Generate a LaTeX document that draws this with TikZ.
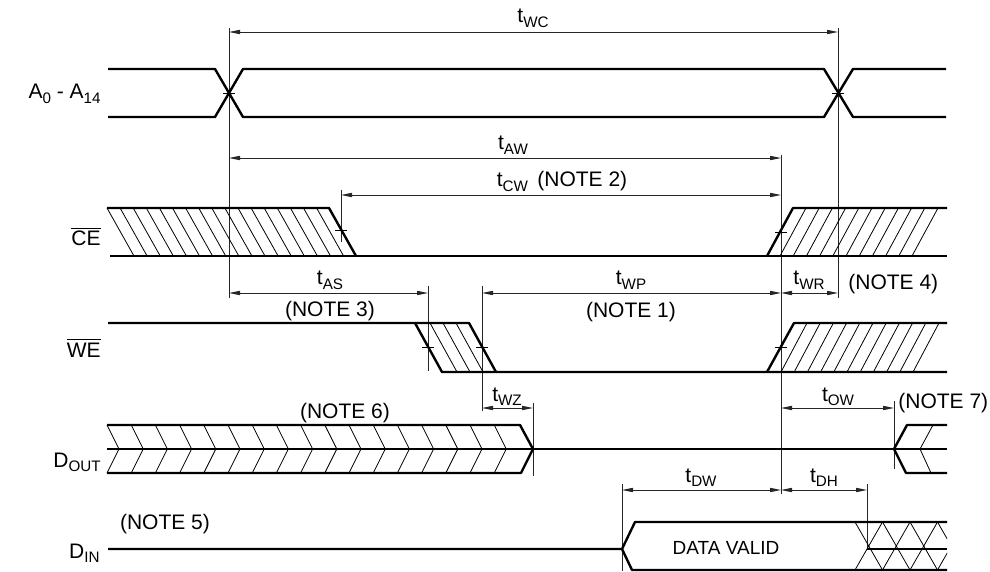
\documentclass[tikz,border=0pt]{standalone}
\usepackage{fontspec}
\setmainfont{Liberation Sans}
\usetikzlibrary{arrows.meta}
\newcommand\subs[1]{\raisebox{-0.45ex}{\fontsize{7.6}{8}\selectfont #1}}
\newcommand\ovl[1]{\ensuremath{\overline{\mbox{#1}}}}
\begin{document}
\begin{tikzpicture}[x=0.5pt,y=-0.5pt,
  sig/.style={line width=1.2pt, line join=round},
  thin/.style={line width=0.45pt, black!85},
  hatchline/.style={line width=0.4pt},
  dim/.style={thin, {Triangle[length=5.5pt,width=2.1pt]}-{Triangle[length=5.5pt,width=2.1pt]}},
  tickm/.style={line width=0.45pt},
  lbl/.style={font=\fontsize{10.5}{12}\selectfont, inner sep=0pt, anchor=base},
  sname/.style={font=\fontsize{10.5}{12}\selectfont, inner sep=0pt, anchor=base east},
]
\useasboundingbox (0,0) rectangle (990,572);

% ---------- signal names ----------
\node[sname] (nA)  at (101,99)  {A\subs{0} - A\subs{14}};
\node[sname] (nCE) at (101,246) {\ovl{CE}};
\node[sname] (nWE) at (101,357) {\ovl{WE}};
\node[sname] (nDO) at (101,467) {D\subs{OUT}};
\node[sname] (nDI) at (100,558) {D\subs{IN}};

% ---------- reference lines ----------
\draw[thin] (229,28) -- (229,298);
\draw[thin] (838,28) -- (838,298);
\draw[thin] (781,155) -- (781,494);
\draw[thin] (341,190) -- (341,242);
\draw[thin] (428,286) -- (428,371);
\draw[thin] (482,286) -- (482,411);
\draw[thin] (533,403) -- (533,476);
\draw[thin] (894,401) -- (894,469);
\draw[thin] (622,484) -- (622,571);
\draw[thin] (867,484) -- (867,549);

% ---------- A0 - A14 ----------
\draw[sig] (108,69) -- (215,69) -- (243,117) -- (824,117) -- (853,69) -- (946,69);
\draw[sig] (108,117) -- (215,117) -- (243,69) -- (824,69) -- (853,117) -- (946,117);
\draw[tickm] (223,93) -- (235,93);
\draw[tickm] (832,93) -- (844,93);

% ---------- CE ----------
\begin{scope}
  \clip (100,208) -- (329,208) -- (356,256) -- (100,256) -- cycle;
  \foreach \k in {0,...,17} \draw[hatchline] ({107+13.1*\k},208) -- ({134+13.1*\k},256);
\end{scope}
\begin{scope}
  \clip (767,256) -- (793,208) -- (950,208) -- (950,256) -- cycle;
  \foreach \k in {0,...,10} \draw[hatchline] ({780+13.2*\k},256) -- ({806+13.2*\k},208);
\end{scope}
\draw[sig] (107,208) -- (329,208) -- (356,256);
\draw[sig] (110,256) -- (947,256);
\draw[sig] (767,256) -- (793,208) -- (947,208);
\draw[tickm] (335,230) -- (347,230);
\draw[tickm] (775,232) -- (787,232);

% ---------- WE ----------
\begin{scope}
  \clip (415,323) -- (469,323) -- (496,372) -- (442,372) -- cycle;
  \foreach \k in {0,...,2} \draw[hatchline] ({430+13*\k},323) -- ({457+13*\k},372);
\end{scope}
\begin{scope}
  \clip (767,372) -- (794,323) -- (950,323) -- (950,372) -- cycle;
  \foreach \k in {0,...,10} \draw[hatchline] ({781+13.2*\k},372) -- ({807+13.2*\k},323);
\end{scope}
\draw[sig] (108,323) -- (469,323) -- (496,372);
\draw[sig] (415,323) -- (442,372) -- (947,372);
\draw[sig] (767,372) -- (794,323) -- (947,323);
\draw[tickm] (422,347) -- (434,347);
\draw[tickm] (476,347) -- (488,347);
\draw[tickm] (775,347) -- (787,347);

% ---------- D OUT ----------
\foreach \k in {0,...,16}
  \draw[hatchline] ({107+24.2*\k},425) -- ({119+24.2*\k},449) -- ({107+24.2*\k},473);
\draw[sig] (107,425) -- (520,425) -- (533,449) -- (521,473) -- (107,473);
\draw[sig] (107,449) -- (947,449);
\draw[hatchline] (933,425) -- (920,449) -- (931,473);
\draw[sig] (947,425) -- (907,425) -- (894,449) -- (906,473) -- (947,473);

% ---------- D IN ----------
\begin{scope}
  \clip (855,522) rectangle (947,570);
  \foreach \k in {0,...,3} {
    \draw[hatchline] ({855+27.5*\k},522) -- ({882.5+27.5*\k},570);
    \draw[hatchline] ({855+27.5*\k},570) -- ({882.5+27.5*\k},522);
  }
\end{scope}
\draw[sig] (108,549) -- (622,549) -- (635,522) -- (947,522);
\draw[sig] (622,549) -- (632,570) -- (947,570);
\draw[sig] (867,549) -- (947,549);
\node[lbl, font=\fontsize{9.5}{11}\selectfont] (dv) at (726,554) {DATA VALID};

% ---------- timing arrows ----------
\draw[dim] (229,32) -- (838,32);
\node[lbl] (twc) at (533,23) {t\subs{WC}};
\draw[dim] (229,158) -- (781,158);
\node[lbl] (taw) at (513,150) {t\subs{AW}};
\draw[dim] (341,195) -- (781,195);
\node[lbl] (tcw) at (562,187) {t\subs{CW}\hspace{0.45em}(NOTE 2)};
\draw[dim] (229,293) -- (428,293);
\node[lbl] (tas) at (330,285) {t\subs{AS}};
\node[lbl] (n3) at (330,316) {(NOTE 3)};
\draw[dim] (482,293) -- (781,293);
\node[lbl] (twp) at (631,285) {t\subs{WP}};
\node[lbl] (n1) at (631,317) {(NOTE 1)};
\draw[dim] (781,293) -- (838,293);
\node[lbl] (twr) at (809,285) {t\subs{WR}};
\node[lbl, anchor=base west] (n4) at (848,289) {(NOTE 4)};
\node[lbl] (n6) at (345,418) {(NOTE 6)};
\draw[dim] (482,408) -- (533,408);
\node[lbl] (twz) at (507,401) {t\subs{WZ}};
\draw[dim] (781,408) -- (894,408);
\node[lbl] (tow) at (838,401) {t\subs{OW}};
\node[lbl, anchor=base west] (n7) at (898,408) {(NOTE 7)};
\draw[dim] (622,490) -- (781,490);
\node[lbl] (tdw) at (701,482) {t\subs{DW}};
\draw[dim] (781,490) -- (867,490);
\node[lbl] (tdh) at (824,482) {t\subs{DH}};
\node[lbl] (n5) at (165,529) {(NOTE 5)};
\end{tikzpicture}
\end{document}
